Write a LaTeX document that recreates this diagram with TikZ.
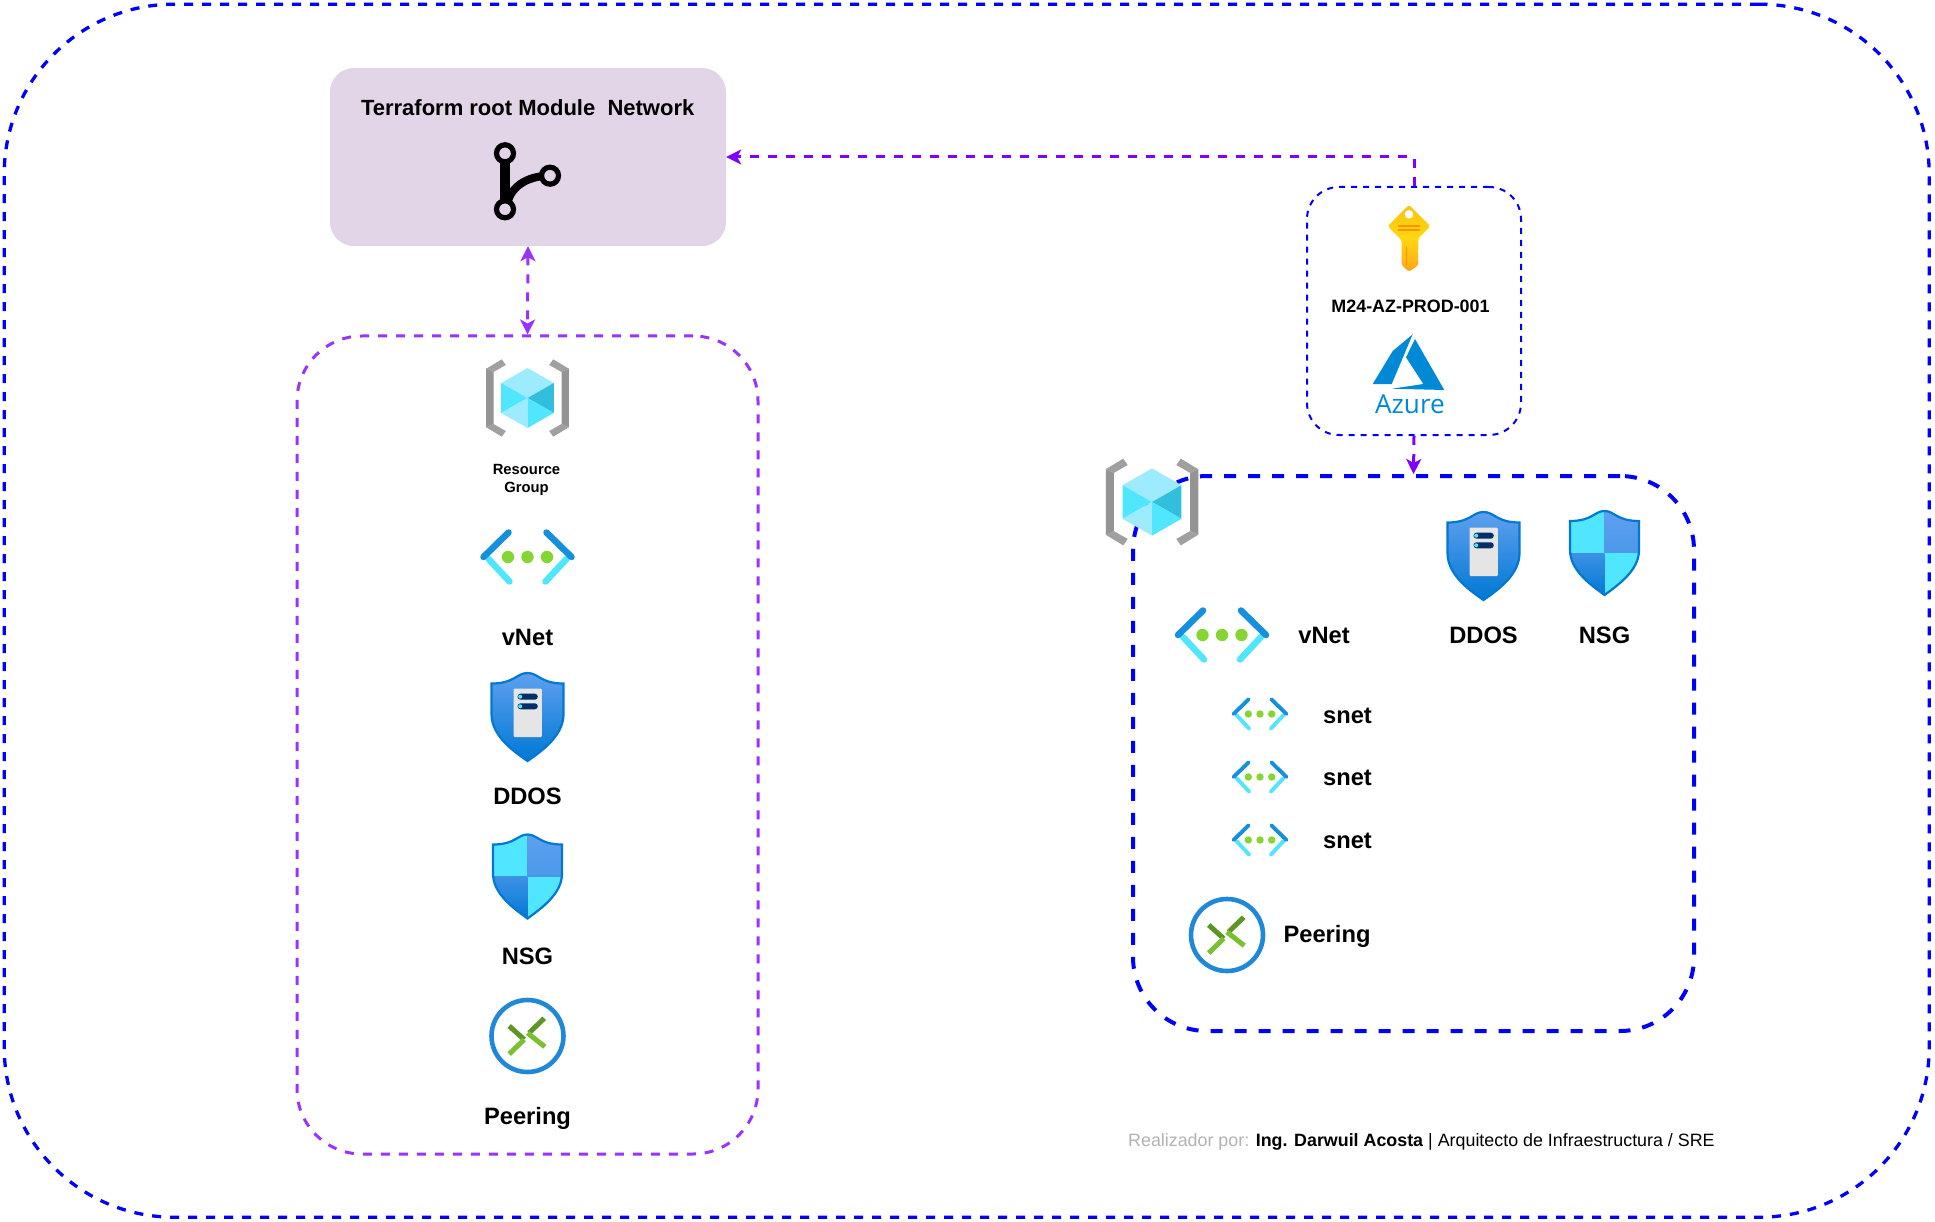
\documentclass[tikz,border=0pt]{standalone}
\usepackage{fontspec}
\setmainfont{Liberation Sans}
\newfontfamily\azfont{Open Sans}
\usetikzlibrary{arrows.meta}
\definecolor{bluedash}{HTML}{0000FF}
\definecolor{purplebox}{HTML}{9933FF}
\definecolor{purplearrow}{HTML}{7F00FF}
\definecolor{tffill}{HTML}{E1D5E7}
\definecolor{azblue}{HTML}{0078D4}
\definecolor{azlight}{HTML}{5EA0EF}
\definecolor{azcyan}{HTML}{50E6FF}
\definecolor{azpale}{HTML}{9CEBFF}
\definecolor{azmid}{HTML}{32BEDD}
\definecolor{azdark}{HTML}{1490DF}
\definecolor{azgreen}{HTML}{86D633}
\definecolor{azgreendk}{HTML}{5E9624}
\definecolor{azlogo}{HTML}{0089D6}
\definecolor{greybar}{HTML}{949494}
\definecolor{greyarm}{HTML}{A0A0A0}
\definecolor{serverpill}{HTML}{003067}
\definecolor{keytop}{HTML}{FCC210}
\definecolor{keymid}{HTML}{FFD70F}
\definecolor{keybot}{HTML}{FFA51B}
\definecolor{keyline}{HTML}{FF9300}
\tikzset{
  x=1pt,y=-1pt,
  outerbox/.style={draw=bluedash,line width=3.3pt,dash pattern=on 9pt off 9pt,rounded corners=170pt,minimum width=1925pt,minimum height=1213pt,inner sep=0pt},
  rightbox/.style={draw=bluedash,line width=4pt,dash pattern=on 12pt off 12pt,rounded corners=74pt,minimum width=561pt,minimum height=555pt,inner sep=0pt},
  leftbox/.style={draw=purplebox,line width=3pt,dash pattern=on 9pt off 9pt,rounded corners=65pt,minimum width=461pt,minimum height=818pt,inner sep=0pt},
  keybox/.style={draw=bluedash,line width=2pt,dash pattern=on 6pt off 6pt,rounded corners=32pt,minimum width=214pt,minimum height=248pt,inner sep=0pt},
  tfbox/.style={fill=tffill,rounded corners=24pt,minimum width=396pt,minimum height=178pt,inner sep=0pt},
  connector/.style={draw=purplearrow,line width=3pt,dash pattern=on 9pt off 9pt},
  leftconn/.style={connector,draw=purplebox,{Stealth[length=15pt,width=15pt,inset=4pt]}-{Stealth[length=15pt,width=15pt,inset=4pt]}},
  oneway/.style={connector,-{Stealth[length=15pt,width=15pt,inset=4pt]}},
  lab/.style={font=\fontsize{23.7}{27}\selectfont\bfseries,text=black,inner sep=0pt},
  smalllab/.style={font=\fontsize{14.8}{18}\selectfont\bfseries,text=black,inner sep=0pt,align=center},
  shieldpath/.style={line width=2.2pt,draw=azblue},
  pics/rg/.style={code={
    \foreach \s in {1,-1}{
      \fill[greybar] (\s*-41.3,-29.3) -- (\s*-34,-26) -- (\s*-34,26) -- (\s*-41.3,29.3) -- cycle;
      \fill[greyarm] (\s*-41.3,-29.3) -- (\s*-25.7,-38.7) -- (\s*-21.7,-33) -- (\s*-34,-26) -- cycle;
      \fill[greyarm] (\s*-41.3,29.3) -- (\s*-25.7,38.7) -- (\s*-21.7,33) -- (\s*-34,26) -- cycle;
    }
    \fill[azpale] (0,-30) -- (26.3,-15) -- (0,0) -- (-26.3,-15) -- cycle;
    \fill[azcyan] (-26.3,-15) -- (0,0) -- (-26.3,15) -- cycle;
    \fill[azmid] (26.3,-15) -- (0,0) -- (26.3,15) -- cycle;
    \fill[azpale] (-26.3,15) -- (0,0) -- (0,30) -- cycle;
    \fill[azcyan] (26.3,15) -- (0,0) -- (0,30) -- cycle;
  }},
  pics/vnet/.style={code={
    \foreach \s in {1,-1}{
      \draw[azcyan,line width=#1pt,line cap=round] (\s*-39,2) -- (\s*-18,24.5);
      \draw[azdark,line width=#1pt,line cap=round] (\s*-44,0) -- (\s*-19,-24.5);
    }
    \foreach \d in {-19.5,0,19.5}{\fill[azgreen] (\d,0) circle (6.2pt);}
  }},
  pics/vnet/.default=6.5,
  pics/ddos/.style={code={
    \shadedraw[shieldpath,top color=azlight,bottom color=azblue] (0,-44) .. controls (11,-44) and (13,-33.5) .. (36,-33.5) -- (36,-3) .. controls (36,18) and (16,33) .. (0,44) .. controls (-16,33) and (-36,18) .. (-36,-3) -- (-36,-33.5) .. controls (-13,-33.5) and (-11,-44) .. cycle;
    \fill[color=black!10,rounded corners=1pt] (-14,-28.3) rectangle (14.3,20);
    \foreach \t in {-20.3,-10.7}{
      \fill[serverpill,rounded corners=3pt] (-10,\t-3) rectangle (10.3,\t+3);
      \fill[azcyan] (-7.3,\t) circle (2pt);
    }
  }},
  pics/nsg/.style={code={
    \begin{scope}
      \clip (0,-42) .. controls (10,-42) and (12,-32) .. (34.5,-32) -- (34.5,-3) .. controls (34.5,17) and (15,31) .. (0,42) .. controls (-15,31) and (-34.5,17) .. (-34.5,-3) -- (-34.5,-32) .. controls (-12,-32) and (-10,-42) .. cycle;
      \fill[azcyan] (-36,-43) rectangle (0,0);
      \shade[top color=azlight,bottom color=azlight!80!azblue] (0,-43) rectangle (36,0);
      \shade[top color=azlight!65!azblue,bottom color=azblue] (-36,0) rectangle (0,43);
      \fill[azcyan] (0,0) rectangle (36,43);
    \end{scope}
    \draw[shieldpath] (0,-42) .. controls (10,-42) and (12,-32) .. (34.5,-32) -- (34.5,-3) .. controls (34.5,17) and (15,31) .. (0,42) .. controls (-15,31) and (-34.5,17) .. (-34.5,-3) -- (-34.5,-32) .. controls (-12,-32) and (-10,-42) .. cycle;
  }},
  pics/peer/.style={code={
    \draw[color=azblue!88!white,line width=4.6pt] (0,0) circle (36pt);
    \draw[azgreendk,line width=5pt] (-18.3,-10) -- (-3.3,3.5);
    \draw[azgreen!90!black,line width=5pt] (-3.3,3.5) -- (-18.3,18);
    \draw[azgreendk,line width=5pt] (16.7,-17.7) -- (1.5,-3);
    \draw[azgreen!90!black,line width=5pt] (0,-3) -- (17.3,10.7);
  }},
}
\begin{document}
\begin{tikzpicture}
\useasboundingbox (0,0) rectangle (1935,1222);
\node[outerbox] (outer) at (966.7,610.7) {};
\node[tfbox] (tf) at (528,157) {};
\node[leftbox] (leftgroup) at (527.5,745) {};
\node[keybox] (keygroup) at (1414,311) {};
\node[rightbox] (rightgroup) at (1413.5,753.5) {};
% connectors
\draw[leftconn] (tf.south) -- (leftgroup.north);
\draw[oneway] (keygroup.north) |- (tf.east);
\draw[oneway] (keygroup.south) -- (rightgroup.north);
% title + git icon
\node[font=\fontsize{22}{26}\selectfont\bfseries,inner sep=0pt] (tftitle) at (527.7,107.5) {Terraform root Module\ \ Network};
\draw[black,line width=10pt] (505,153) -- (505,209);
\draw[black,line width=8pt] (507,206) .. controls (509,188) and (526,175.7) .. (550,175.7);
\foreach \c in {(505,153.3),(505,209.3),(550,175.7)}{\draw[black,line width=5.2pt,fill=tffill] \c circle (8.5pt);}
% key
\begin{scope}[shift={(1409,238.3)}]
  \shade[top color=keytop,bottom color=keybot,middle color=keymid,rounded corners=2.5pt] (0,-33.5) -- (21.3,-12) -- (9.3,0) -- (9.3,27) -- (0,33.5) -- (-7.3,27) -- (-7.3,2) -- (-21.3,-12) -- cycle;
  \fill[white] (0,-24) circle (4.3pt);
  \fill[white] (10.8,13) circle (2pt) (10.8,21) circle (2pt);
  \draw[keyline,line width=1.6pt] (-10.7,-12.3) -- (11,-12.3) (-10.7,-8.3) -- (11,-8.3);
  \draw[keyline,line width=1.2pt] (-2.3,8.3) -- (-2.3,26.7);
\end{scope}
\node[font=\fontsize{17.9}{21}\selectfont\bfseries,inner sep=0pt] (keylab) at (1410.5,306) {M24-AZ-PROD-001};
% azure logo
\fill[azlogo] (1412.7,334.3) -- (1392.7,351) -- (1372.7,384) -- (1391.7,384) -- cycle;
\fill[azlogo] (1415,339) -- (1406,357.3) -- (1423.3,384) -- (1392,388.7) -- (1444.3,390) -- cycle;
\node[font=\azfont\fontsize{26.2}{30}\selectfont,text=azlogo,inner sep=0pt] (azurelab) at (1410,404) {Azure};
% left column
\pic at (527.5,398) {rg};
\node[smalllab] (rglab) at (526.5,480.3) {Resource\\Group};
\pic at (527.5,557) {vnet};
\node[lab] (vnetl) at (527.5,637) {vNet};
\pic at (527.5,717) {ddos};
\node[lab] (ddosl) at (527.5,796) {DDOS};
\pic at (527.5,876.5) {nsg};
\node[lab] (nsgl) at (527.5,956) {NSG};
\pic at (527.5,1036) {peer};
\node[lab] (peerl) at (527.5,1118) {Peering};
% right group
\pic[scale=1.12] at (1152,502) {rg};
\pic at (1222,635) {vnet};
\node[lab] (vnetr) at (1324,635) {vNet};
\pic at (1483.5,556) {ddos};
\node[lab] (ddosr) at (1483.5,635) {DDOS};
\pic at (1604.5,553) {nsg};
\node[lab] (nsgr) at (1604.5,635) {NSG};
\pic[scale=.6] at (1260,714) {vnet=3.9};
\node[lab] (s1) at (1347.5,716) {snet};
\pic[scale=.6] at (1260,777) {vnet=3.9};
\node[lab] (s2) at (1347.5,778) {snet};
\pic[scale=.6] at (1260,840) {vnet=3.9};
\node[lab] (s3) at (1347.5,841) {snet};
\pic at (1227,935) {peer};
\node[lab] (peerr) at (1327,936) {Peering};
% footer
\node[anchor=west,font=\fontsize{17.85}{21}\selectfont,inner sep=0pt] (credit) at (1128,1141.5) {\textcolor{black!30}{Realizador por:} \textbf{Ing. Darwuil Acosta} | Arquitecto de Infraestructura / SRE};
\end{tikzpicture}
\end{document}
